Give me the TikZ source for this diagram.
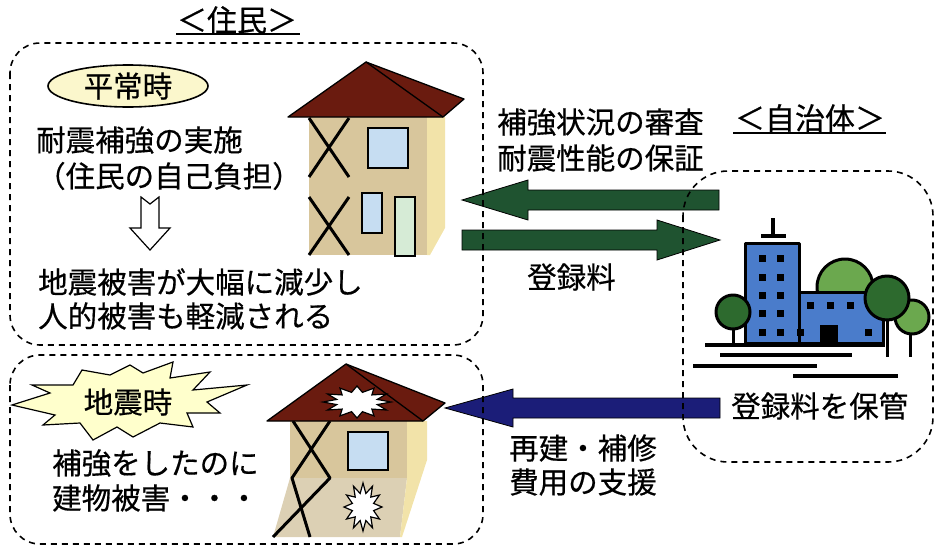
\documentclass[tikz,border=0pt]{standalone}
\usepackage{fontspec}
\setmainfont{Noto Sans CJK JP}[FakeBold=0.5]
\usetikzlibrary{shapes.geometric}
\definecolor{roofc}{HTML}{6A1B0F}
\definecolor{wallc}{HTML}{D8C69C}
\definecolor{walllow}{HTML}{DCD0B4}
\definecolor{sidec}{HTML}{F2E3A9}
\definecolor{glassc}{HTML}{C6DDF2}
\definecolor{doorc}{HTML}{D6EBD6}
\definecolor{calmc}{HTML}{FBF7CC}
\definecolor{burstc}{HTML}{FFFFCC}
\definecolor{arrg}{HTML}{1F5330}
\definecolor{arrb}{HTML}{1B1D78}
\definecolor{bldc}{HTML}{4A7CCB}
\definecolor{treedk}{HTML}{2D6A2E}
\definecolor{treelt}{HTML}{6BA84E}
\begin{document}
\begin{tikzpicture}[x=1pt,y=-1pt,
  txt/.style={font=\fontsize{29.5}{34}\selectfont, inner sep=0pt, anchor=west},
  ttl/.style={font=\fontsize{30}{34}\selectfont, inner sep=0pt},
  grp/.style={draw=black, line width=1.6pt, dash pattern=on 6pt off 5pt, rounded corners=#1},
  edge/.style={draw=black, line width=1.3pt, line join=round},
  brace/.style={draw=black, line width=3pt},
  pane/.style={draw=black, line width=2pt},
  blk/.style={draw=black, line width=3pt, line join=round},
  gnd/.style={draw=black, line width=4pt},
  barrow/.style={fill=#1, draw=black, line width=0.8pt, line join=miter}]
\useasboundingbox (0,0) rectangle (936,552);

% ---- titles ----
\node[ttl] (resid) at (237,20) {＜住民＞};
\draw[line width=1.3pt] (176,34) -- (300,34);
\node[ttl] (gov) at (810,118) {＜自治体＞};
\draw[line width=1.3pt] (733,133) -- (886,133);

% ---- normal times ----
\node[draw, ellipse, fill=calmc, line width=1.6pt, minimum width=160pt, minimum height=42pt, inner sep=0pt,
      font=\fontsize{29.5}{34}\selectfont] (calm) at (128,86) {平常時};
\node[txt] (do1) at (36,140) {耐震補強の実施};
\node[txt] (do2) at (36,176) {（住民の自己負担）};
\draw[fill=white, line width=1.2pt, line join=miter]
  (141,197) -- (150,204) -- (159,197) -- (159,228) -- (170,228) -- (150,250)
  -- (130,228) -- (141,228) -- cycle;
\node[txt] (res1) at (38,282) {地震被害が大幅に減少し};
\node[txt] (res2) at (38,316) {人的被害も軽減される};

% ---- sound house ----
\fill[wallc] (309,117) rectangle (427,255);
\fill[sidec] (427,117) -- (445,117) -- (445,228) -- (430,255) -- (427,255) -- cycle;
\draw[brace] (309,118) -- (349,177) (349,118) -- (309,177);
\draw[brace] (309,197) -- (349,255) (349,197) -- (309,255);
\draw[pane, fill=glassc] (368,128) rectangle (408,168);
\draw[pane, fill=glassc] (362,193) rectangle (382,233);
\draw[pane, fill=doorc] (395,197) rectangle (415,256);
\draw[edge, fill=roofc] (288,117) -- (366,62) -- (464,99) -- (443,117) -- cycle;
\draw[edge] (366,62) -- (443,117);

% ---- earthquake ----
\draw[fill=burstc, line width=1.2pt, line join=miter]
  (12,405) -- (50,393) -- (32,385) -- (73,385) -- (82,370) -- (110,375) -- (130,365)
  -- (143,373) -- (173,362) -- (170,378) -- (210,372) -- (193,390) -- (247,385)
  -- (207,402) -- (220,413) -- (187,413) -- (193,427) -- (160,423) -- (133,437)
  -- (117,427) -- (93,440) -- (80,423) -- (43,425) -- (55,415) -- cycle;
\node[font=\fontsize{29.5}{34}\selectfont, inner sep=0pt] (quake) at (128,402) {地震時};
\node[txt] (bad1) at (52,463) {補強をしたのに};
\node[txt] (bad2) at (52,498) {建物被害・・・};

% ---- damaged house ----
\fill[wallc] (290,421) rectangle (407,478);
\fill[walllow] (290,478) -- (407,478) -- (400,537) -- (273,537) -- cycle;
\fill[sidec] (407,421) -- (427,421) -- (427,460) -- (402,537) -- (400,537) -- (407,478) -- cycle;
\draw[pane, fill=glassc] (348,432) rectangle (388,470);
\draw[brace, line join=round] (293,421) -- (330,478) -- (273,537);
\draw[brace, line join=round] (330,421) -- (292,478) -- (310,537);
\draw[edge, fill=roofc] (267,421) -- (346,364) -- (445,403) -- (423,421) -- cycle;
\draw[edge] (346,364) -- (423,421);
\draw[fill=white, line width=1.2pt, line join=miter]
  plot[samples at={0,...,23}] ({357+(34-13*mod(\x,2))*cos(15*\x)}, {402+(16-6*mod(\x,2))*sin(15*\x)}) -- cycle;
\draw[fill=white, line width=1.2pt, line join=miter]
  plot[samples at={0,...,23}] ({363+(19-8*mod(\x,2))*cos(15*\x)}, {507+(24-10*mod(\x,2))*sin(15*\x)}) -- cycle;

% ---- flows between residents and town office ----
\draw[barrow=arrg] (462,200) -- (528,180) -- (528,190) -- (719,190) -- (719,210)
  -- (528,210) -- (528,220) -- cycle;
\draw[barrow=arrg] (462,230) -- (657,230) -- (657,220) -- (720,240) -- (657,260)
  -- (657,250) -- (462,250) -- cycle;
\draw[barrow=arrb] (445,408) -- (513,389) -- (513,398) -- (720,398) -- (720,418)
  -- (513,418) -- (513,427) -- cycle;
\node[txt] (chk1) at (497,122) {補強状況の審査};
\node[txt] (chk2) at (497,158) {耐震性能の保証};
\node[txt] (fee) at (527,277) {登録料};
\node[txt] (aid1) at (509,448) {再建・補修};
\node[txt] (aid2) at (509,482) {費用の支援};
\node[txt] (keep) at (731,406) {登録料を保管};

% ---- town office building ----
\draw[blk, fill=treelt] (845,287) circle (28);
\draw[blk, fill=bldc] (745,243) rectangle (799,343);
\draw[blk, fill=bldc] (799,292) rectangle (883,343);
\draw[line width=4pt] (773,218) -- (773,236) (761,236) -- (786,236);
\foreach \wy in {258,277,295,313,332} {
  \fill (758.5,\wy-3.5) rectangle ++(7,7);
  \fill (776.5,\wy-3.5) rectangle ++(7,7);
}
\foreach \wx in {810,830,850} { \fill (\wx-3.5,301.5) rectangle ++(7,7); }
\fill (796.5,328.5) rectangle ++(7,7);
\fill (864.5,328.5) rectangle ++(7,7);
\fill (820,325) rectangle (838,343);
\draw[line width=3pt] (910,333) -- (910,357);
\draw[blk, fill=treelt] (912,317) circle (17);
\draw[line width=3pt] (887,318) -- (887,357);
\draw[blk, fill=treedk] (887,298) circle (22);
\draw[line width=3pt] (733,328) -- (733,344);
\draw[blk, fill=treedk] (733,312) circle (17);
\draw[gnd] (705,345) -- (885,345);
\draw[gnd] (720,355) -- (852,355);
\draw[gnd] (693,366) -- (817,366);
\draw[gnd] (793,376) -- (898,376);

% ---- dashed groups ----
\draw[grp=30pt] (10,43) rectangle (483,345);
\draw[grp=30pt] (10,355) rectangle (483,544);
\draw[grp=45pt] (683,171) rectangle (933,462);
\end{tikzpicture}
\end{document}
